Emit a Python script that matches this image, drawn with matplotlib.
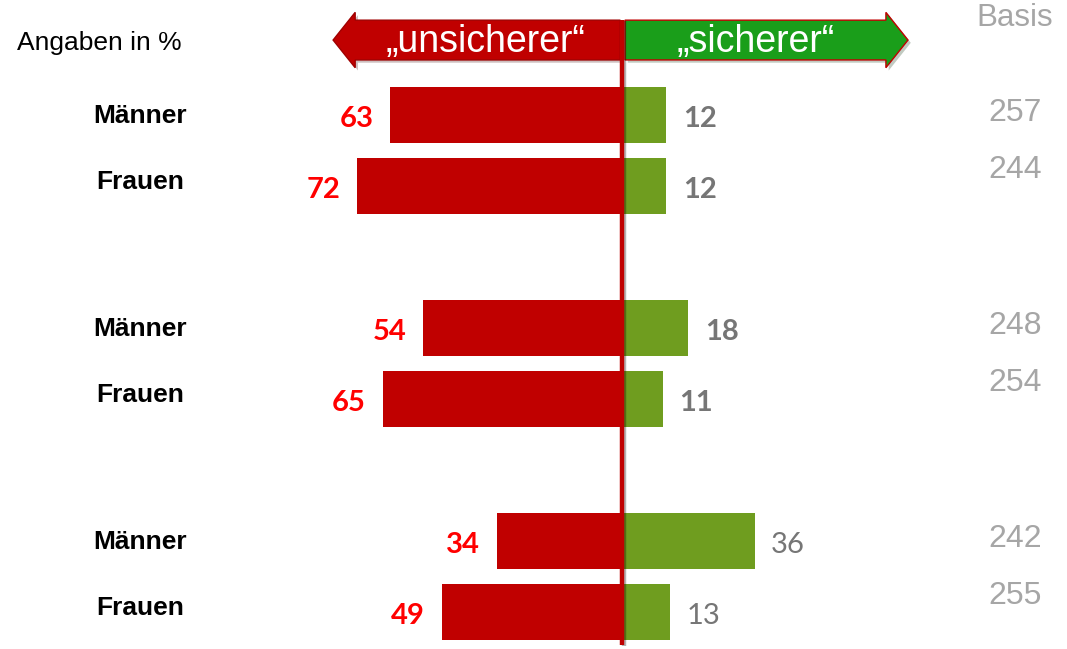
import matplotlib.pyplot as plt
from matplotlib.patches import Polygon
import matplotlib.patheffects as pe
import numpy as np

# Werte in %
gruppen = ["Männer", "Frauen", "Männer", "Frauen", "Männer", "Frauen"]
unsicherer = [63, 72, 54, 65, 34, 49]
sicherer = [12, 12, 18, 11, 36, 13]
sicherer_fett = [True, True, True, True, False, False]
basis = [257, 244, 248, 254, 242, 255]
positionen = [0, 1, 3, 4, 6, 7]

ROT = "#c00000"
GRUEN = "#6f9d1f"
GRUEN_PFEIL = "#1a9e1a"
GRAU = "#767676"
HELLGRAU = "#a6a6a6"

fig = plt.figure(figsize=(10.67, 6.49), dpi=100)
ax = fig.add_axes([0, 0, 1, 1])
ax.set_xlim(-169.0, 120.9)
ax.set_ylim(7.52, -1.62)
ax.axis("off")

pos = np.array(positionen)
ax.barh(pos, [-v for v in unsicherer], height=0.79, color=ROT, zorder=2)
ax.barh(pos, sicherer, height=0.79, color=GRUEN, zorder=2)

# Werte-Beschriftungen
for p, v in zip(pos, unsicherer):
    ax.annotate(str(v), (-v, p), xytext=(-12, -2.5), textcoords="offset points",
                ha="right", va="center", fontsize=21, fontweight="bold",
                color="#ff0000", family="Lato")
for p, v, fett in zip(pos, sicherer, sicherer_fett):
    ax.annotate(str(v), (v, p), xytext=(12, -2.5), textcoords="offset points",
                ha="left", va="center", fontsize=21,
                fontweight="bold" if fett else "normal",
                color=GRAU, family="Lato")

# Gruppen und Basis
for p, g, b in zip(pos, gruppen, basis):
    frau = g == "Frauen"
    ax.text(-131, p + (-0.06 if frau else 0.02), g, ha="center", va="center",
            fontsize=19, fontweight="bold", family="Liberation Sans")
    ax.text(106.8, p - (0.22 if frau else 0.03), str(b), ha="center", va="center",
            fontsize=23, color=HELLGRAU, family="Liberation Sans")

ax.text(106.8, -1.37, "Basis", ha="center", va="center", fontsize=22.5,
        color=HELLGRAU, family="Liberation Sans")
ax.text(-164.4, -1.02, "Angaben in %", ha="left", va="center", fontsize=19,
        family="Liberation Sans")

# Pfeile oben
yc, hb, hk = -1.056, 0.28, 0.39
schatten = [pe.SimplePatchShadow(offset=(2, -2), alpha=0.25), pe.Normal()]
links = Polygon([(-0.5, yc - hb), (-72.5, yc - hb), (-72.5, yc - hk), (-78.5, yc),
                 (-72.5, yc + hk), (-72.5, yc + hb), (-0.5, yc + hb)],
                closed=True, facecolor=ROT, edgecolor="#a00000", lw=1, zorder=3,
                path_effects=schatten)
rechts = Polygon([(0.8, yc - hb), (71.7, yc - hb), (71.7, yc - hk), (77.7, yc),
                  (71.7, yc + hk), (71.7, yc + hb), (0.8, yc + hb)],
                 closed=True, facecolor=GRUEN_PFEIL, edgecolor="#c00000", lw=1, zorder=3,
                 path_effects=schatten)
ax.add_patch(links)
ax.add_patch(rechts)
ax.text(-37.2, yc + 0.03, "\u201eunsicherer\u201c", ha="center", va="center", fontsize=27,
        color="white", family="Liberation Sans", zorder=4)
ax.text(36.4, yc + 0.03, "\u201esicherer\u201c", ha="center", va="center", fontsize=27,
        color="white", family="Liberation Sans", zorder=4)

# Mittellinie
ax.plot([0, 0], [-1.338, 7.46], color=ROT, lw=3.2, zorder=5, solid_capstyle="butt",
        path_effects=[pe.SimpleLineShadow(offset=(1.5, -1), alpha=0.3), pe.Normal()])

fig.savefig("out.png", dpi=100)
